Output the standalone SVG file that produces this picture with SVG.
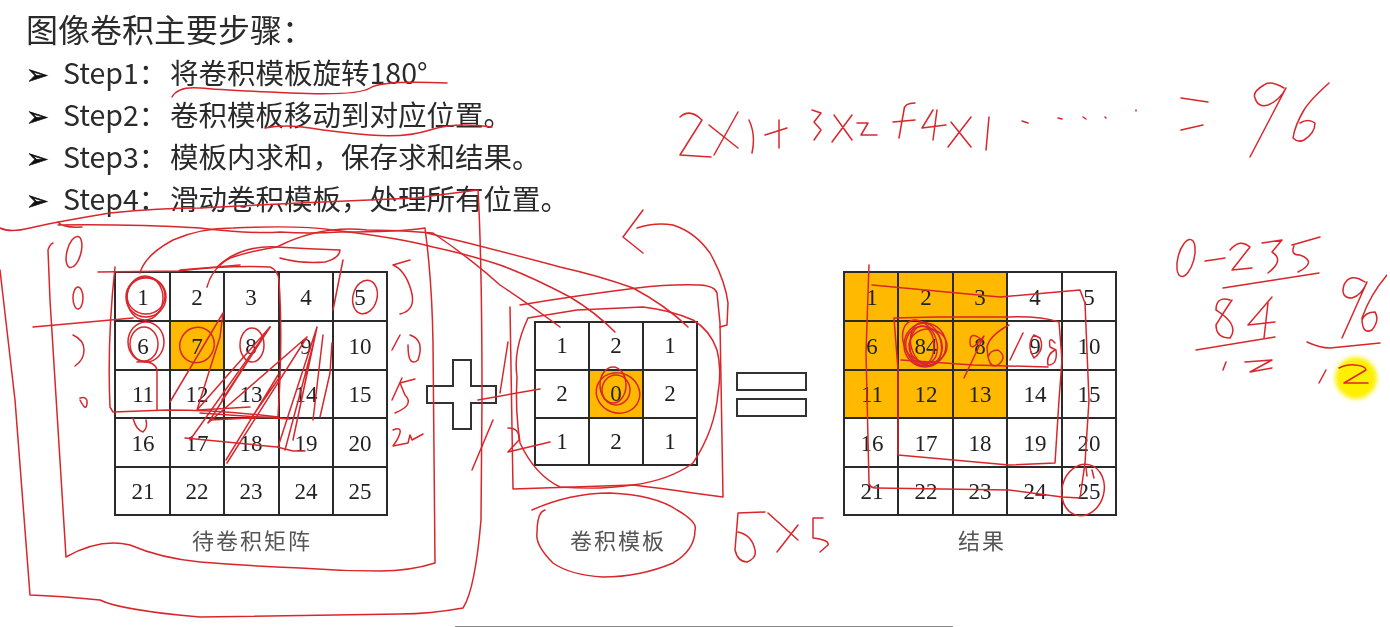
<svg xmlns="http://www.w3.org/2000/svg" width="1390" height="627" viewBox="0 0 1390 627">
<style>
.h{font-family:"Noto Sans CJK SC","Noto Sans",sans-serif;fill:#2b2b2b}
.t{font-size:32px}.s{font-size:28.5px}
.a{font-family:"DejaVu Sans",sans-serif;font-size:27px;fill:#111;stroke:#111;stroke-width:.7}
.n{font-family:"Liberation Serif",serif;font-size:23px;fill:#222;text-anchor:middle}
.c{font-family:"Noto Sans CJK SC",sans-serif;font-size:22px;fill:#555;text-anchor:middle;letter-spacing:2px}
.g{fill:none;stroke:#2a2a2a;stroke-width:2}
.o{fill:#ffb900}
.b{fill:#fff;stroke:#333;stroke-width:2}
.r{fill:none;stroke:#d9262c;stroke-width:1.5;stroke-linecap:round;stroke-linejoin:round}
</style>
<defs>
<filter id="soft" x="0" y="0" width="100%" height="100%"><feGaussianBlur stdDeviation="0.35"/></filter>
<filter id="glow" x="-30%" y="-30%" width="160%" height="160%"><feGaussianBlur stdDeviation="2"/></filter>
</defs>
<rect width="1390" height="627" fill="#fff"/>
<g filter="url(#soft)">
<g id="heading">
<text class="h t" x="26" y="42">图像卷积主要步骤&#xFF1A;</text>
<text class="a" x="26" y="84">➢</text>
<text class="h s" x="63" y="84">Step1&#xFF1A;</text><text class="h s" x="170" y="84">将卷积模板旋转180°</text>
<text class="a" x="26" y="126">➢</text>
<text class="h s" x="63" y="126">Step2&#xFF1A;</text><text class="h s" x="170" y="126">卷积模板移动到对应位置。</text>
<text class="a" x="26" y="168">➢</text>
<text class="h s" x="63" y="168">Step3&#xFF1A;</text><text class="h s" x="170" y="168">模板内求和&#xFF0C;保存求和结果。</text>
<text class="a" x="26" y="210">➢</text>
<text class="h s" x="63" y="210">Step4&#xFF1A;</text><text class="h s" x="170" y="210">滑动卷积模板&#xFF0C;处理所有位置。</text>
</g>
<g id="matrix">
<rect class="o" x="170" y="321" width="54" height="49"/>
<path class="g" d="M115 272H387V515H115ZM170 272V515M224 272V515M279 272V515M333 272V515M115 321H387M115 370H387M115 418H387M115 467H387"/>
<text class="n" x="143" y="305">1</text><text class="n" x="197" y="305">2</text><text class="n" x="251" y="305">3</text><text class="n" x="306" y="305">4</text><text class="n" x="360" y="305">5</text>
<text class="n" x="143" y="354">6</text><text class="n" x="197" y="354">7</text><text class="n" x="251" y="354">8</text><text class="n" x="306" y="354">9</text><text class="n" x="360" y="354">10</text>
<text class="n" x="143" y="402">11</text><text class="n" x="197" y="402">12</text><text class="n" x="251" y="402">13</text><text class="n" x="306" y="402">14</text><text class="n" x="360" y="402">15</text>
<text class="n" x="143" y="451">16</text><text class="n" x="197" y="451">17</text><text class="n" x="251" y="451">18</text><text class="n" x="306" y="451">19</text><text class="n" x="360" y="451">20</text>
<text class="n" x="143" y="499">21</text><text class="n" x="197" y="499">22</text><text class="n" x="251" y="499">23</text><text class="n" x="306" y="499">24</text><text class="n" x="360" y="499">25</text>
<text class="c" x="252" y="549">待卷积矩阵</text>
</g>
<g id="plus"><path class="b" d="M453 360H471V386H496V403H471V429H453V403H427V386H453Z"/></g>
<g id="template">
<rect class="o" x="589" y="370" width="54" height="48"/>
<path class="g" d="M535 322H697V465H535ZM589 322V465M643 322V465M535 370H697M535 418H697"/>
<text class="n" x="562" y="353">1</text><text class="n" x="616" y="353">2</text><text class="n" x="670" y="353">1</text>
<text class="n" x="562" y="401">2</text><text class="n" x="616" y="401">0</text><text class="n" x="670" y="401">2</text>
<text class="n" x="562" y="449">1</text><text class="n" x="616" y="449">2</text><text class="n" x="670" y="449">1</text>
<text class="c" x="618" y="549">卷积模板</text>
</g>
<g id="equals"><rect class="b" x="737" y="373" width="69" height="17"/><rect class="b" x="737" y="399" width="69" height="17"/></g>
<g id="result">
<rect class="o" x="844" y="272" width="163" height="146"/>
<path class="g" d="M844 272H1116V515H844ZM898 272V515M953 272V515M1007 272V515M1062 272V515M844 321H1116M844 370H1116M844 418H1116M844 467H1116"/>
<text class="n" x="872" y="305">1</text><text class="n" x="926" y="305">2</text><text class="n" x="980" y="305">3</text><text class="n" x="1035" y="305">4</text><text class="n" x="1089" y="305">5</text>
<text class="n" x="872" y="354">6</text><text class="n" x="926" y="354">84</text><text class="n" x="980" y="354">8</text><text class="n" x="1035" y="354">9</text><text class="n" x="1089" y="354">10</text>
<text class="n" x="872" y="402">11</text><text class="n" x="926" y="402">12</text><text class="n" x="980" y="402">13</text><text class="n" x="1035" y="402">14</text><text class="n" x="1089" y="402">15</text>
<text class="n" x="872" y="451">16</text><text class="n" x="926" y="451">17</text><text class="n" x="980" y="451">18</text><text class="n" x="1035" y="451">19</text><text class="n" x="1089" y="451">20</text>
<text class="n" x="872" y="499">21</text><text class="n" x="926" y="499">22</text><text class="n" x="980" y="499">23</text><text class="n" x="1035" y="499">24</text><text class="n" x="1089" y="499">25</text>
<text class="c" x="982" y="549">结果</text>
</g>
<circle id="pointer" cx="1356" cy="378" r="21" fill="#fff000" filter="url(#glow)"/>
<g id="connectors" class="r">
<!-- step underlines -->
<path d="M172 97Q178 86 200 88T290 93T370 88T447 83"/>
<path d="M265 128Q285 124 310 128T370 135T430 130T492 127"/>
<!-- outer frame -->
<path d="M0 228Q10 233 30 228T110 213Q160 208 200 208L300 203L415 198L478 190Q482 260 482 400L481 520Q475 590 463 608Q430 614 400 614L200 617Q120 610 100 600Q60 596 30 595L15 400L0 270"/>
<!-- inner frame -->
<path d="M58 222Q62 228 82 227M58 225Q130 224 200 228Q250 234 280 232Q310 234 340 232Q400 232 425 228Q432 280 433 343L435 563Q410 571 380 571Q340 571 300 568Q250 566 200 562Q160 558 130 545Q100 538 66 557L50 300L48 250Q50 244 53 243"/>
<!-- lines to the template -->
<path d="M140 273Q145 255 173 240Q200 228 233 228Q300 225 333 230Q400 238 433 247Q470 255 500 265Q530 276 570 297Q595 312 615 332"/>
<path d="M207 287Q212 268 230 258Q255 250 277 247Q320 225 367 230Q400 230 433 233Q470 258 500 285Q530 305 560 327"/>
<path d="M427 233Q490 248 560 267Q600 276 633 288Q665 305 688 327"/>
<path d="M217 267Q240 245 277 247Q310 249 340 250Q340 258 325 262Q300 264 280 258M333 310L343 260"/>
<!-- square over the top-left cells -->
<path d="M98 272L178 271Q230 265 270 267Q278 270 279 280Q283 340 278 417Q220 410 167 410L113 412L110 407Q107 340 115 267"/>
<path d="M180 270L240 265M33 327L133 318M157 410V370Q155 360 137 362M133 418Q136 430 143 432Q148 428 146 420"/>
<!-- cell circles -->
<ellipse cx="146" cy="297" rx="20" ry="20"/><ellipse cx="145" cy="298" rx="18" ry="22"/><ellipse cx="146" cy="296" rx="19" ry="18"/>
<ellipse cx="146" cy="342" rx="18" ry="20"/><ellipse cx="144" cy="344" rx="14" ry="17"/><ellipse cx="197" cy="345" rx="17" ry="18" transform="rotate(30 197 345)"/>
<ellipse cx="252" cy="345" rx="12" ry="17"/><ellipse cx="365" cy="297" rx="12" ry="17" transform="rotate(15 365 297)"/>
<!-- zigzag -->
<path d="M170 402L223 313L220 337L197 410L270 327L190 440M185 438L277 447L293 451L305 451"/>
<path d="M227 463L307 337L208 423L270 327L222 400M278 447L317 327L293 440L313 345L285 450M323 335L313 420M332 343L330 373L320 417"/>
<path d="M210 420L270 417M198 410L250 407M200 413L290 419M226 460L278 375M250 420L279 378"/>
<!-- handwritten left column -->
<ellipse cx="74" cy="252" rx="7" ry="16" transform="rotate(15 74 252)"/><ellipse cx="78" cy="298" rx="5" ry="11"/>
<path d="M73 335Q84 340 84 350T75 366"/><path d="M80 398Q88 396 87 404T80 400"/>
<!-- handwritten right column -->
<path d="M410 260L393 265Q405 270 411 290T400 314"/><path d="M392 350L400 335M410 335Q425 340 418 360Q408 368 408 345"/>
<path d="M392 400L402 378M415 379L400 383L405 395Q415 405 395 413"/><path d="M393 430Q405 425 397 440L393 446L408 443L410 435L412 440L423 434"/>
<!-- plus and template annotations -->
<path d="M478 400L540 389M508 452L550 442M500 393L508 342M472 470L493 420M508 428Q520 428 519 440L508 452"/>
<path d="M520 305Q580 295 637 288Q670 284 700 285Q715 286 717 293L720 323L723 497L693 493Q660 488 633 485L513 489L510 307"/>
<path d="M528 318Q513 350 517 377Q515 410 520 443Q535 475 560 487Q600 490 633 485Q670 480 693 463Q715 430 718 393Q722 370 717 350Q710 330 693 320Q670 310 643 307L577 310L528 318"/>
<path d="M643 253L623 237L643 210M637 228Q655 222 673 225Q695 232 710 253Q725 280 728 303L727 325L720 327"/>
<ellipse cx="618" cy="393" rx="22" ry="20" transform="rotate(20 618 393)"/><ellipse cx="613" cy="385" rx="13" ry="18"/><ellipse cx="616" cy="390" rx="14" ry="15"/>
<path d="M532 510Q570 493 610 493Q655 495 677 510Q698 522 695 530Q695 550 673 563Q640 577 603 577Q570 575 553 563Q535 545 537 533Q537 512 545 510"/>
<path d="M765 512L738 513L735 550Q738 562 747 562Q757 558 755 550Q752 535 738 532M768 513L798 540M777 552L798 525M823 518L813 518L813 538Q830 540 828 545L820 552"/>
<!-- result annotations -->
<path d="M869 265L866 353L869 483Q870 488 876 488L1009 490L1062 497L1080 498L1085 463L1089 400L1085 303L1080 290L1000 297L872 285"/>
<path d="M894 318L937 317L1009 317Q1040 316 1059 322L1062 360L1059 400L1055 463L1009 465L898 455L898 370L894 318M901 360L973 365L1048 367"/>
<ellipse cx="925" cy="345" rx="21" ry="22"/><ellipse cx="924" cy="346" rx="18" ry="20" transform="rotate(-20 924 346)"/><ellipse cx="926" cy="344" rx="15" ry="22" transform="rotate(-15 926 344)"/><ellipse cx="922" cy="346" rx="12" ry="20"/><ellipse cx="928" cy="346" rx="19" ry="17"/><ellipse cx="920" cy="342" rx="16" ry="23" transform="rotate(-25 920 342)"/>
<path d="M982 340Q970 330 970 342T984 336L964 378M1009 325Q990 335 987 347Q988 370 998 365Q1008 357 998 350Q990 350 988 357"/>
<path d="M1010 360L1023 333M1034 335Q1026 345 1034 358Q1045 350 1040 338L1034 335M1055 343Q1048 335 1050 347L1056 350Q1058 365 1048 365Q1046 355 1055 350"/>
<ellipse cx="1083" cy="490" rx="21" ry="26" transform="rotate(15 1083 490)"/><path d="M1086 468L1087 476M1092 470L1094 478"/>
<!-- top formula -->
<path d="M680 117Q690 108 702 120L680 155L711 157M709 125L738 148M738 112L714 155M749 120Q756 135 752 153M765 135L787 128M779 120V148"/>
<path d="M812 110L821 113L814 122L821 130L814 140M834 115L852 140M852 115L832 142M857 123H868L861 135L877 135"/>
<path d="M915 103Q904 103 904 110L899 138M893 122L915 120M933 110L922 128L946 125M937 110L933 140M951 122L971 147M971 117L948 147M989 117L986 150"/>
<path d="M1022 121L1028 123M1058 118L1062 119M1083 117L1086 119M1105 117L1106 118M1136 110V111M1181 98L1208 102M1181 130L1203 125"/>
<path d="M1284 88Q1270 80 1264 85Q1252 92 1255 98Q1258 108 1268 105Q1280 100 1286 88L1250 157M1329 83Q1310 100 1304 110Q1295 125 1293 138Q1298 143 1304 140Q1315 133 1315 123Q1308 118 1300 123"/>
<!-- right calculations -->
<ellipse cx="1186" cy="258" rx="8" ry="19" transform="rotate(15 1186 258)"/>
<path d="M1205 261L1225 258M1230 250Q1240 238 1250 247L1232 270L1252 268M1262 243L1282 240L1272 252Q1285 260 1268 273M1292 245L1320 237M1294 246Q1290 255 1300 255Q1318 262 1298 272M1223 288L1319 273"/>
<path d="M1230 300Q1216 296 1216 310Q1240 325 1230 338Q1216 338 1216 325Q1225 310 1232 300M1272 297L1248 325L1275 322M1268 303L1264 338M1196 350L1275 337"/>
<path d="M1223 370L1226 362M1245 362L1272 360L1250 372L1272 368"/>
<path d="M1365 282Q1350 272 1344 285Q1340 298 1352 298Q1362 295 1367 282L1342 338M1387 275Q1370 295 1362 318Q1362 335 1372 330Q1380 320 1375 312Q1365 312 1362 320M1307 342Q1320 348 1330 348L1380 343"/>
<path d="M1326 370L1319 383M1339 368Q1348 364 1355 365Q1366 366 1366 370L1344 383L1368 383"/>
</g>
<rect id="edge" x="455" y="626" width="498" height="1" fill="#888"/>
</g>
</svg>
